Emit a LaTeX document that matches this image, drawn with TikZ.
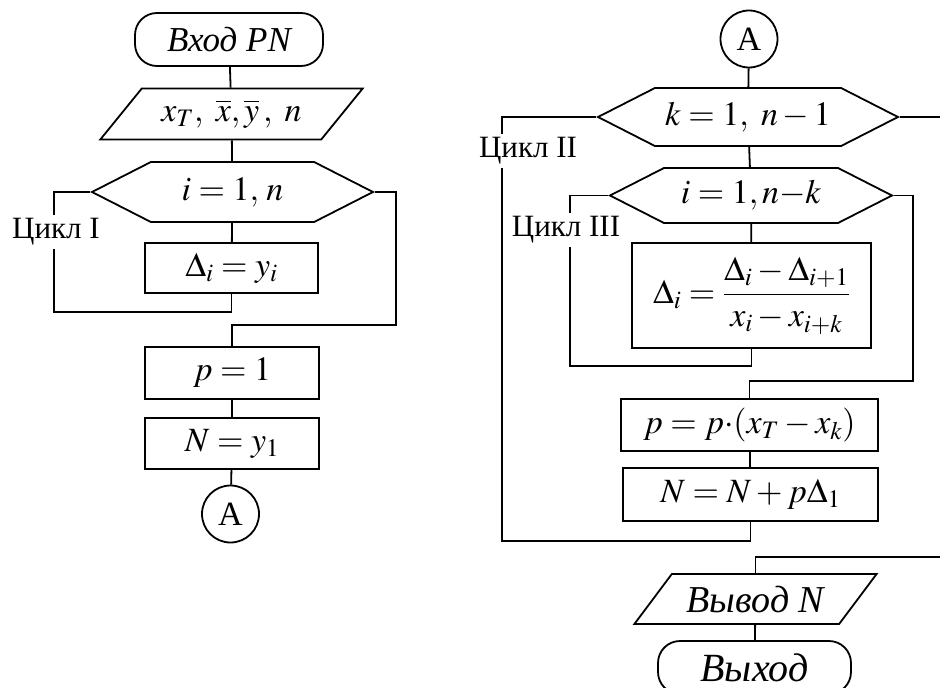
\documentclass[tikz,border=0pt]{standalone}
\usepackage{mathptmx}
\usepackage[no-math]{fontspec}
\setmainfont{Liberation Serif}
\usetikzlibrary{shapes.geometric,shapes.symbols}

\begin{document}
\begin{tikzpicture}[x=1pt,y=-1pt,line width=1.8pt,
  every node/.style={font=\fontsize{34}{40}\selectfont},
  terminal/.style={draw,rectangle,rounded corners=22pt,minimum height=53pt,font=\fontsize{38}{44}\selectfont\itshape},
  io/.style={draw,trapezium,trapezium left angle=46,trapezium right angle=134,trapezium stretches=true,minimum height=51pt},
  loopbox/.style={draw,signal,signal to=west and east,signal pointer angle=54,inner sep=0pt},
  proc/.style={draw,rectangle,inner sep=0pt},
  conn/.style={draw,circle,minimum size=57pt,inner sep=0pt,font=\fontsize{34}{40}\selectfont},
  cyclab/.style={inner sep=3pt,font=\fontsize{31}{36}\selectfont}]

\useasboundingbox (0,0) rectangle (940,688);

% left part
\node[terminal,minimum width=188pt,font=\fontsize{35}{42}\selectfont\itshape] (start) at (229,39.5) {Вход PN};
\node[io,minimum width=263pt] (inp) at (231.5,114) {$x_T,\ \overline{x},\overline{y}\,,\ n$};
\node[loopbox,minimum width=281pt,minimum height=60pt] (h1) at (232.5,192) {$i = 1,\, n$};
\node[proc,minimum width=173pt,minimum height=50pt] (b1) at (231.5,268) {$\Delta_i = y_i$};
\node[proc,minimum width=174pt,minimum height=52pt] (b2) at (232,373) {$p = 1$};
\node[proc,minimum width=174pt,minimum height=51pt] (b3) at (232,443.5) {$N = y_1$};
\node[conn] (ca1) at (230.5,514) {A};
\node[cyclab] (l1) at (56,232) {Цикл I};

\coordinate (c1) at (54,312);
\coordinate (c2) at (396,325);

\draw (start) -- (inp);
\draw (inp) -- (h1);
\draw (h1) -- (b1);
\draw (b1.south) |- (c1) -- (c1 |- l1.south);
\draw (l1.north -| c1) |- (h1.west);
\draw (h1.east) -| (c2) -| (b2.north);
\draw (b2) -- (b3);
\draw (b3) -- (ca1);

% right part
\node[conn] (ca2) at (749,39) {A};
\node[loopbox,minimum width=300pt,minimum height=58pt] (h2) at (748,117) {$k = 1,\ n - 1$};
\node[loopbox,minimum width=282pt,minimum height=55pt] (h3) at (751,195.5) {$i = 1, n{-}k$};
\node[proc,minimum width=239pt,minimum height=105pt] (b4) at (751.5,295.5)
  {$\displaystyle\Delta_i = \frac{\Delta_i - \Delta_{i+1}}{x_i - x_{i+k}}$};
\node[proc,minimum width=257pt,minimum height=52pt] (b5) at (749.5,425) {$p = p{\cdot}(x_T - x_k)$};
\node[proc,minimum width=255pt,minimum height=53pt] (b6) at (750.5,494.5) {$N = N + p\Delta_1$};
\node[io,minimum width=243pt,minimum height=50pt,font=\fontsize{38}{44}\selectfont\itshape] (outp) at (755.5,599) {Вывод N};
\node[terminal,minimum width=193pt,font=\fontsize{40}{46}\selectfont\itshape] (stop) at (754.5,667.5) {Выход};
\node[cyclab] (l2) at (528,151) {Цикл II};
\node[cyclab] (l3) at (566,230) {Цикл III};

\coordinate (c3) at (570,366);
\coordinate (c4) at (913,381);
\coordinate (c5) at (502,541);
\coordinate (c6) at (940,117);
\coordinate (c7) at (940,557);

\draw (ca2) -- (h2);
\draw (h2) -- (h3);
\draw (h3) -- (b4);
\draw (h3.west) -| (l3.north -| c3);
\draw (l3.south -| c3) |- (c3) -| (b4.south);
\draw (h3.east) -| (c4) -| (b5.north);
\draw (b5) -- (b6);
\draw (b6.south) |- (c5) -- (c5 |- l2.south);
\draw (l2.north -| c5) |- (h2.west);
\draw (h2.east) -- (c6);
\draw (c7) -| (outp.north);
\draw (outp) -- (stop);

\end{tikzpicture}
\end{document}
